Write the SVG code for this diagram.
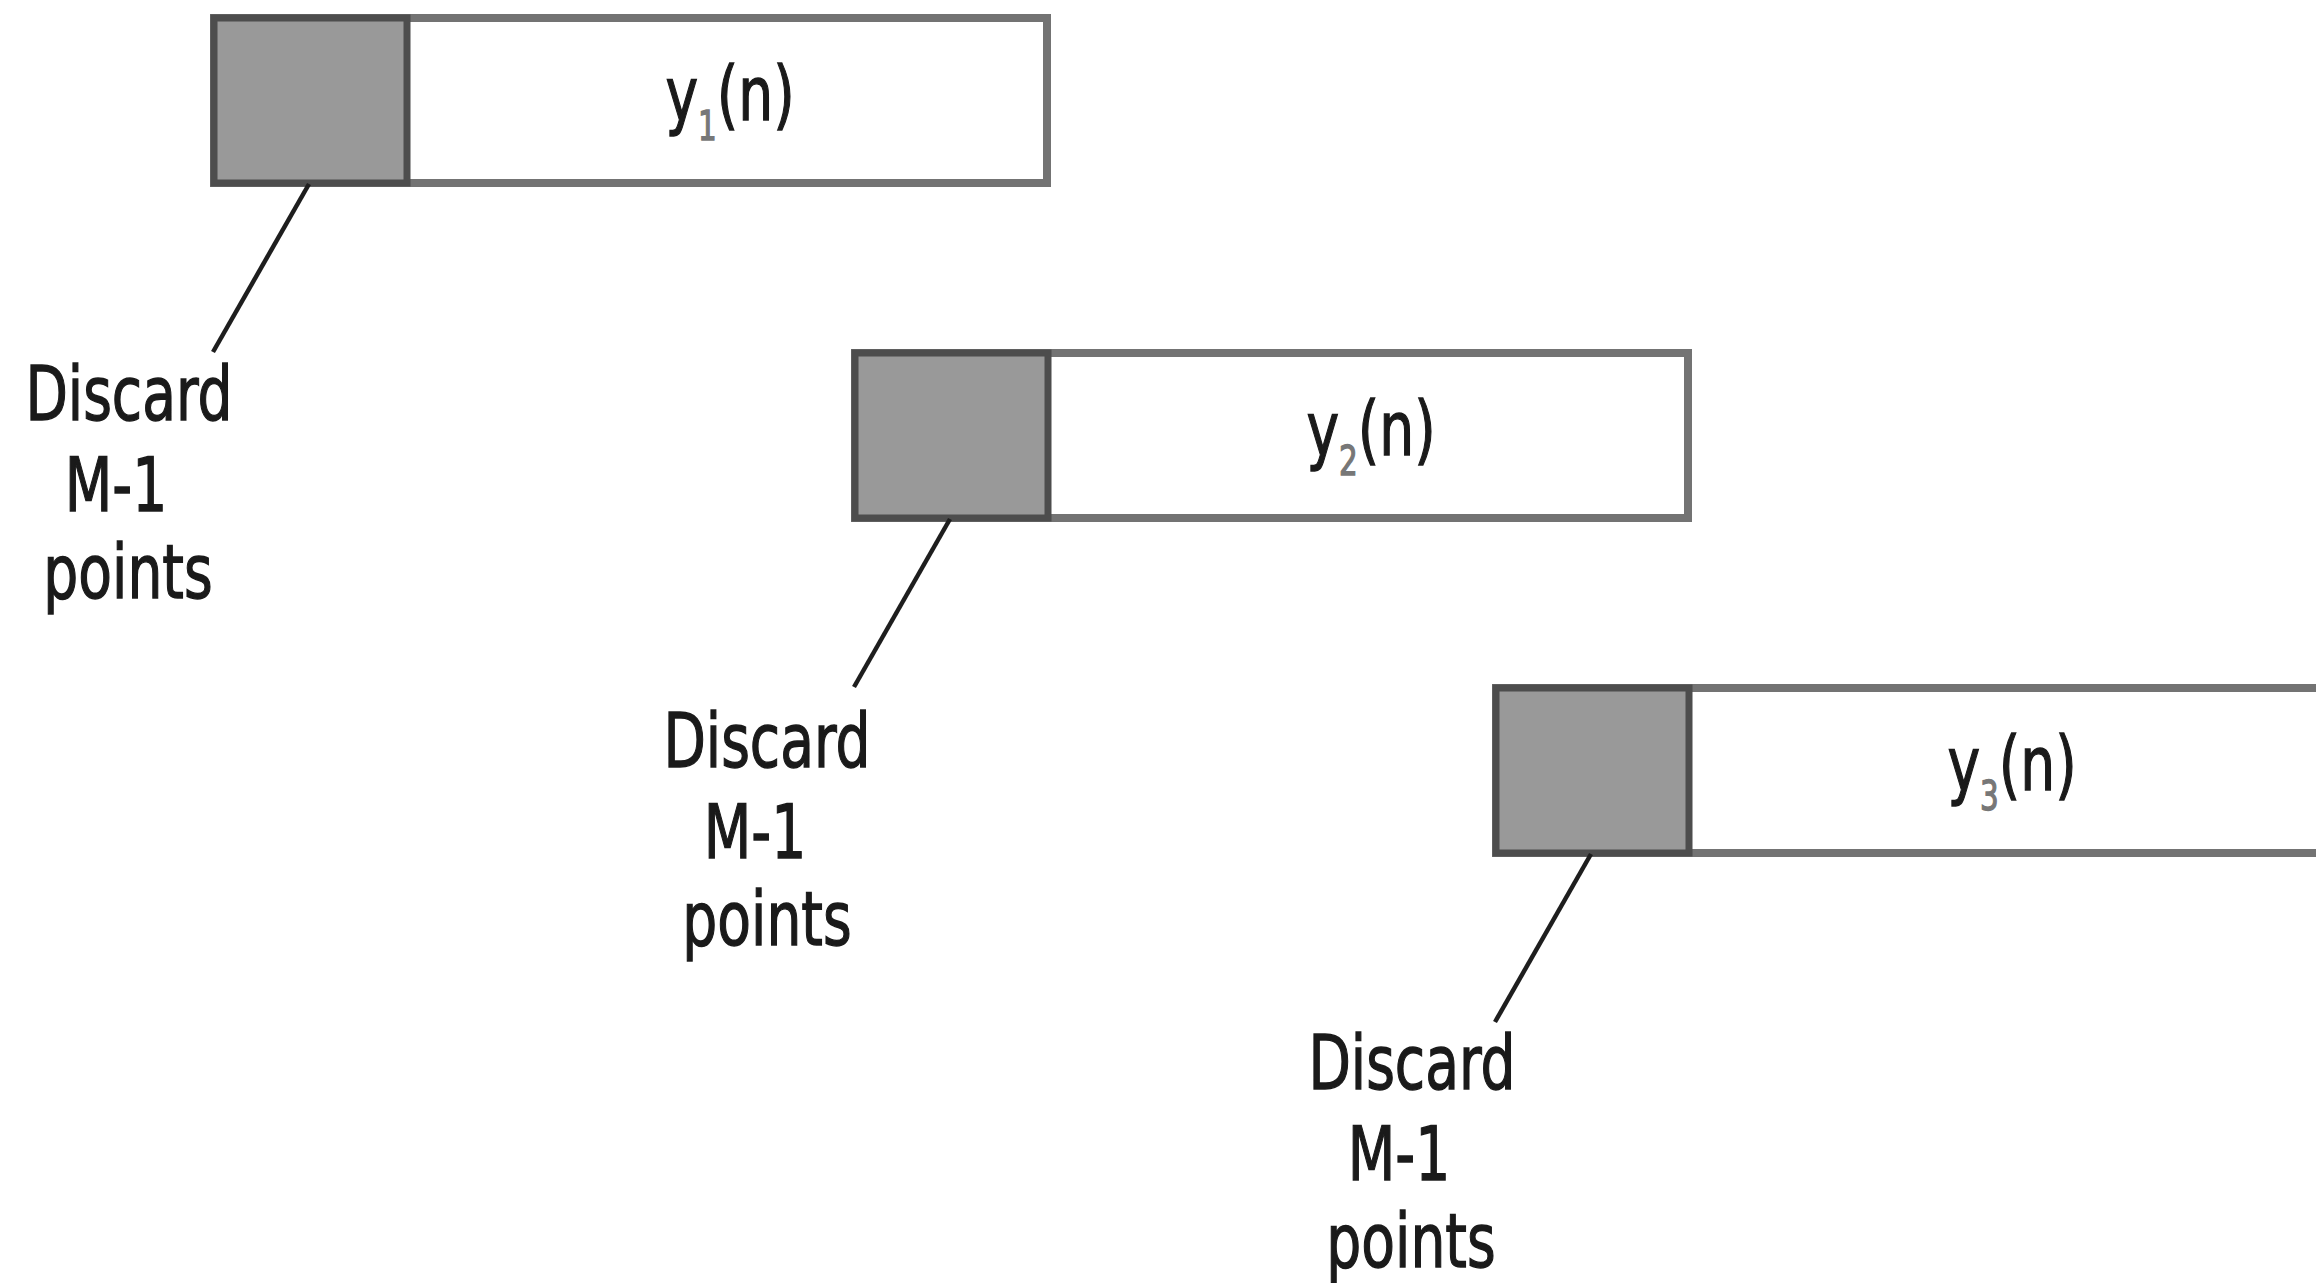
<svg xmlns="http://www.w3.org/2000/svg" width="2316" height="1283" viewBox="0 0 2316 1283">
<style>
.frame{fill:#ffffff;stroke:#737373;stroke-width:8}
.disc{fill:#999999;stroke:#4d4d4d;stroke-width:7}
.lead{stroke:#1e1e1e;stroke-width:4.5;fill:none;stroke-linecap:butt}
.t{font-family:"DejaVu Sans","Liberation Sans",sans-serif;font-size:75px;fill:#1a1a1a;stroke:#1a1a1a;stroke-width:1.4;text-anchor:middle}
.sub{font-size:40px;fill:#777777;stroke:#777777}
</style>
<rect width="2316" height="1283" fill="#ffffff"/>
<g id="block1">
<rect class="frame" x="214" y="18" width="833" height="165"/>
<rect class="disc" x="214" y="18" width="193" height="165"/>
<text class="t" transform="translate(730 120) scale(0.735 1)">y<tspan class="sub" dy="20">1</tspan><tspan dy="-20">(n)</tspan></text>
</g>
<g id="block2">
<rect class="frame" x="855" y="353" width="833" height="165"/>
<rect class="disc" x="855" y="353" width="193" height="165"/>
<text class="t" transform="translate(1371 455) scale(0.735 1)">y<tspan class="sub" dy="20">2</tspan><tspan dy="-20">(n)</tspan></text>
</g>
<g id="block3">
<rect class="frame" x="1496" y="688" width="833" height="165"/>
<rect class="disc" x="1496" y="688" width="193" height="165"/>
<text class="t" transform="translate(2012 790) scale(0.735 1)">y<tspan class="sub" dy="20">3</tspan><tspan dy="-20">(n)</tspan></text>
</g>
<g id="label1">
<text class="t" transform="translate(129 420) scale(0.735 1)">Discard</text>
<text class="t" transform="translate(116 511) scale(0.735 1)">M-1</text>
<text class="t" transform="translate(128 598) scale(0.735 1)">points</text>
</g>
<g id="label2">
<text class="t" transform="translate(767 767) scale(0.735 1)">Discard</text>
<text class="t" transform="translate(755 858) scale(0.735 1)">M-1</text>
<text class="t" transform="translate(767 945) scale(0.735 1)">points</text>
</g>
<g id="label3">
<text class="t" transform="translate(1412 1089) scale(0.735 1)">Discard</text>
<text class="t" transform="translate(1399 1180) scale(0.735 1)">M-1</text>
<text class="t" transform="translate(1411 1267) scale(0.735 1)">points</text>
</g>
<g id="connectors">
<line class="lead" x1="309" y1="184" x2="213" y2="352"/>
<line class="lead" x1="950" y1="519" x2="854" y2="687"/>
<line class="lead" x1="1591" y1="854" x2="1495" y2="1022"/>
</g>
</svg>
